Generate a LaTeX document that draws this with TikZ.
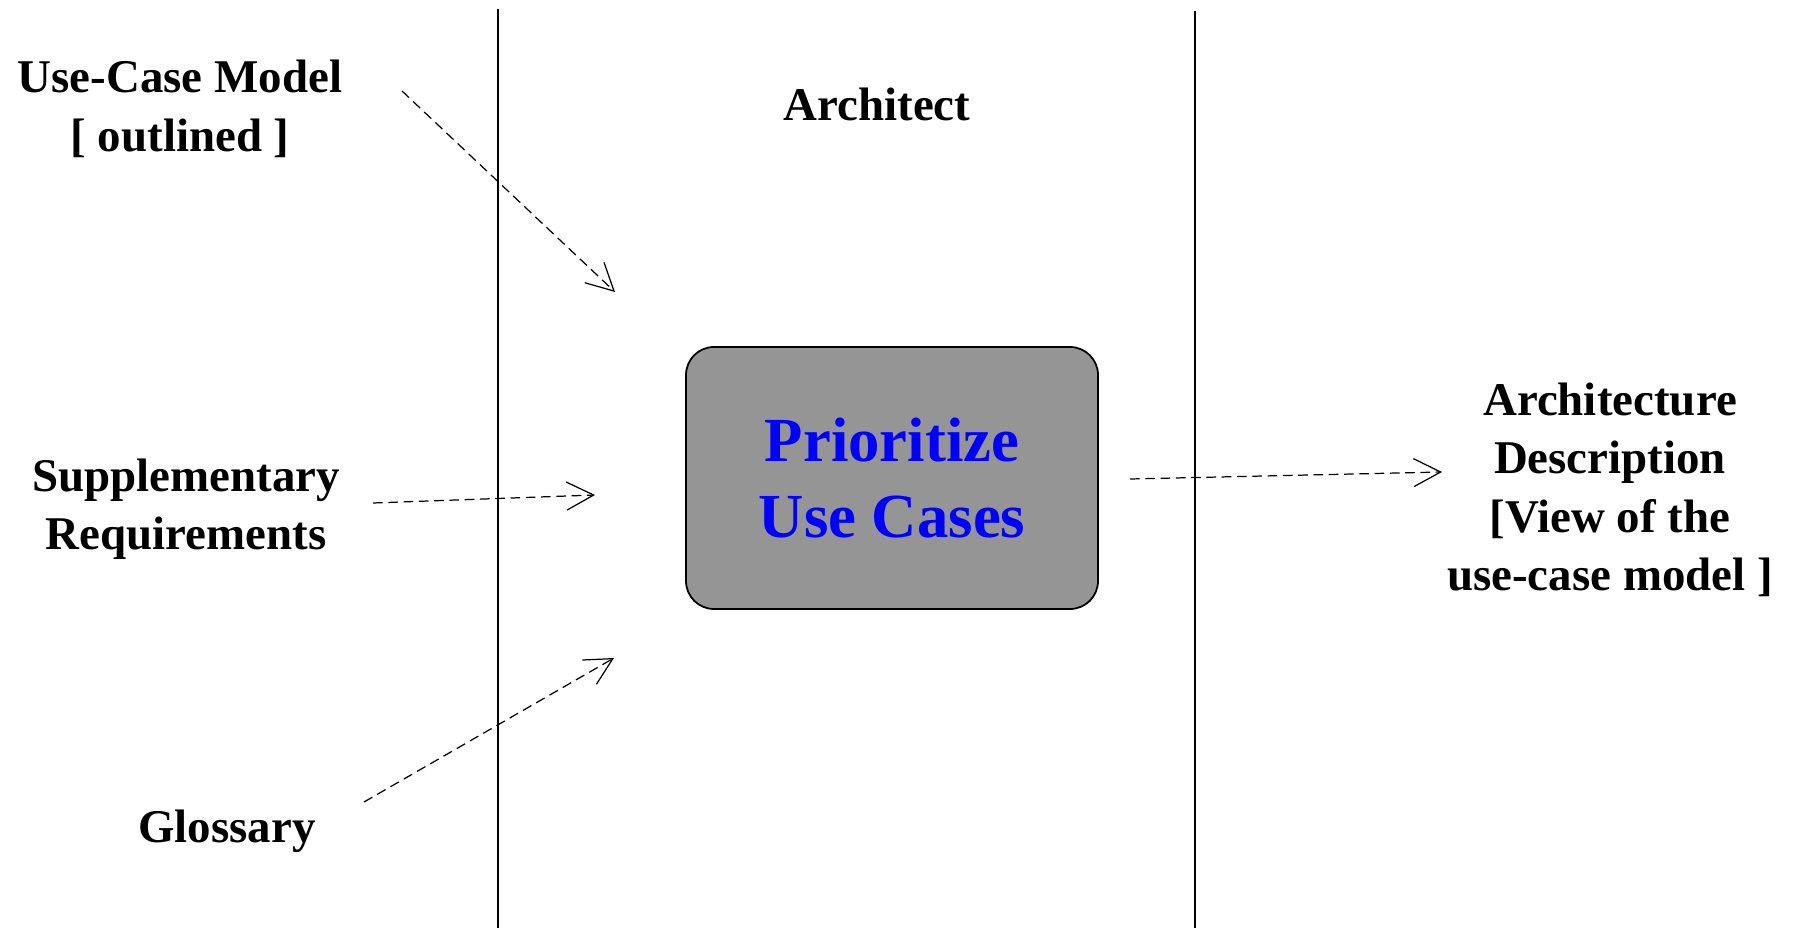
\documentclass[tikz,border=0pt]{standalone}
\usepackage{fontspec}
\setmainfont{Liberation Serif}
\usetikzlibrary{arrows.meta, positioning}
\definecolor{cblue}{HTML}{0000FF}
\definecolor{cgrey}{HTML}{959595}
\tikzset{
  every picture/.style={font=\rmfamily\bfseries, line width=0.7pt},
  label/.style={align=center, inner sep=0pt, font=\fontsize{26.7pt}{33.3pt}\selectfont\bfseries},
  flow/.style={-{Straight Barb[length=0.54cm, width=0.56cm, line width=0.7pt]}, dash pattern=on 5.5pt off 3.2pt, line width=0.7pt},
  lane/.style={line width=1.4pt},
}

\begin{document}
\begin{tikzpicture}[
    activity/.style={draw=black, fill=cgrey, rounded corners=0.56cm, line width=1pt, align=center,
      minimum width=8.24cm, minimum height=5.24cm, text=cblue, font=\fontsize{35.7pt}{43pt}\selectfont\bfseries},
  ]
  \useasboundingbox (0,0) rectangle (35.94,18.56);

  % swimlane
  \coordinate (l1top) at (9.96,18.38);
  \coordinate (l1bot) at (9.96,0);
  \coordinate (l2top) at (23.9,18.34);
  \coordinate (l2bot) at (23.9,0);
  \draw[lane] (l1top) -- (l1bot);
  \draw[lane] (l2top) -- (l2bot);
  \node[label] (arch) at (17.54,16.48) {Architect};

  % activity
  \node[activity] (prio) at (17.84,9.0) {Prioritize\\Use Cases};

  % inputs and output
  \node[label] (ucm)   at (3.6,16.38)  {Use-Case Model\\{[} outlined {]}};
  \node[label] (supp)  at (3.72,8.38)  {Supplementary\\Requirements};
  \node[label] (gloss) at (4.54,1.93)  {Glossary};
  \node[label] (adesc) at (32.2,8.76)  {Architecture\\Description\\{[}View of the\\use-case model {]}};

  \coordinate (ucmout)   at (8.04,16.74);
  \coordinate (ucmin)    at (12.3,12.72);
  \coordinate (suppout)  at (7.46,8.5);
  \coordinate (suppin)   at (11.9,8.66);
  \coordinate (glossout) at (7.28,2.52);
  \coordinate (glossin)  at (12.28,5.4);
  \coordinate (prioout)  at (22.6,8.98);
  \coordinate (adescin)  at (28.84,9.12);

  \draw[flow] (ucmout) -- (ucmin);
  \draw[flow] (suppout) -- (suppin);
  \draw[flow] (glossout) -- (glossin);
  \draw[flow] (prioout) -- (adescin);
\end{tikzpicture}
\end{document}
